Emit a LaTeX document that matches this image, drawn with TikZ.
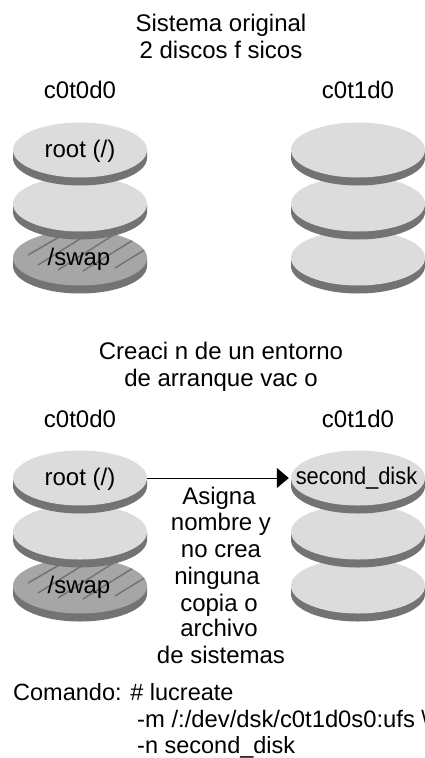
\documentclass[tikz,border=0pt]{standalone}
\usepackage{fontspec}
\setmainfont{Liberation Sans}
\usetikzlibrary{arrows.meta,shapes.geometric}
\definecolor{facelight}{HTML}{DCDCDC}
\definecolor{facedark}{HTML}{A6A6A6}
\definecolor{rimgray}{HTML}{737373}
\tikzset{
  txt/.style={font=\fontsize{24}{28}\selectfont, inner sep=0pt, text=black, anchor=base},
  cmdtxt/.style={font=\fontsize{23.5}{28}\selectfont, inner sep=0pt, text=black, anchor=base west},
  cmdwide/.style={font=\fontsize{23.8}{28}\selectfont, inner sep=0pt, text=black, anchor=base west},
  diskface/.style={ellipse, minimum width=134pt, minimum height=55pt, inner sep=0pt, text height=14pt, text depth=0pt, font=\fontsize{24}{28}\selectfont},
  hatchline/.style={draw=rimgray, line width=1.5pt},
  link/.style={draw=black, line width=1pt, shorten >=2pt, -{Triangle[length=12pt,width=20pt]}}
}
\newcommand{\rimshape}[2]{%
  \fill[rimgray] (#1-67,#2) -- (#1-67,#2+8) arc[start angle=180,end angle=0,x radius=67,y radius=27.5] -- (#1+67,#2) -- cycle;}
\newcommand{\swapdisc}[2]{%
  \rimshape{#1}{#2}
  \fill[facedark] (#1,#2) ellipse[x radius=67,y radius=27.5];
  \begin{scope}
    \clip (#1,#2) ellipse[x radius=67,y radius=27.5];
    \foreach \ax/\ay/\bx/\by in {-64/-14/-33/-32, -52/-3/-7/-29, -42/7/16/-29, -22/12/43/-29, 3/13/58/-21, 35/10/66/-9}
      \draw[hatchline] (#1+\ax,#2+\ay) -- (#1+\bx,#2+\by);
  \end{scope}
}
\begin{document}
\begin{tikzpicture}[x=1pt,y=-1pt]
\useasboundingbox (0,0) rectangle (424,758);
% upper pair
\swapdisc{80}{258}
\node[diskface] (swapA) at (79,258) {/swap};
\rimshape{80}{204}
\node[diskface, fill=facelight] (midA) at (80,204) {};
\rimshape{80}{150}
\node[diskface, fill=facelight] (rootA) at (80,150) {root (/)};
\rimshape{358}{258}
\node[diskface, fill=facelight] (upC) at (358,258) {};
\rimshape{358}{204}
\node[diskface, fill=facelight] (upB) at (358,204) {};
\rimshape{358}{150}
\node[diskface, fill=facelight] (upA) at (358,150) {};
% lower pair
\swapdisc{80}{586}
\node[diskface] (swapB) at (79,586) {/swap};
\rimshape{80}{532}
\node[diskface, fill=facelight] (midB) at (80,532) {};
\rimshape{80}{478}
\node[diskface, fill=facelight] (rootB) at (80,478) {root (/)};
\rimshape{358}{586}
\node[diskface, fill=facelight] (lowC) at (358,586) {};
\rimshape{358}{532}
\node[diskface, fill=facelight] (lowB) at (358,532) {};
\rimshape{358}{478}
\node[diskface, fill=facelight] (secondDisk) at (358,478) {};
\node[txt] (secondLabel) at (356.5,484) {\scalebox{0.91}[1]{second\_disk}};
\draw[link] (rootB.east) -- (secondDisk.west);
% texts
\node[txt] (t1) at (221,31) {Sistema original};
\node[txt] (t2) at (221,58) {2 discos f sicos};
\node[txt] (l1) at (80,98) {c0t0d0};
\node[txt] (l2) at (358,98) {c0t1d0};
\node[txt] (t3) at (221,359) {Creaci n de un entorno};
\node[txt] (t4) at (221,386) {de arranque vac o};
\node[txt] (l3) at (80,427) {c0t0d0};
\node[txt] (l4) at (358,427) {c0t1d0};
\node[txt] (a1) at (219,504) {Asigna};
\node[txt] (a2) at (221,530) {nombre y};
\node[txt] (a3) at (221,557) {no crea};
\node[txt] (a4) at (217,584) {ninguna};
\node[txt] (a5) at (219,611) {copia o};
\node[txt] (a6) at (219,636) {archivo};
\node[txt] (a7) at (221,663) {de sistemas};
\node[cmdtxt] (c1) at (13,700) {Comando: \# lucreate};
\node[cmdwide] (c2) at (137,727) {-m /:/dev/dsk/c0t1d0s0:ufs\hspace{6.5pt}\textbackslash};
\node[cmdtxt] (c3) at (137,753) {-n second\_disk};
\end{tikzpicture}
\end{document}
